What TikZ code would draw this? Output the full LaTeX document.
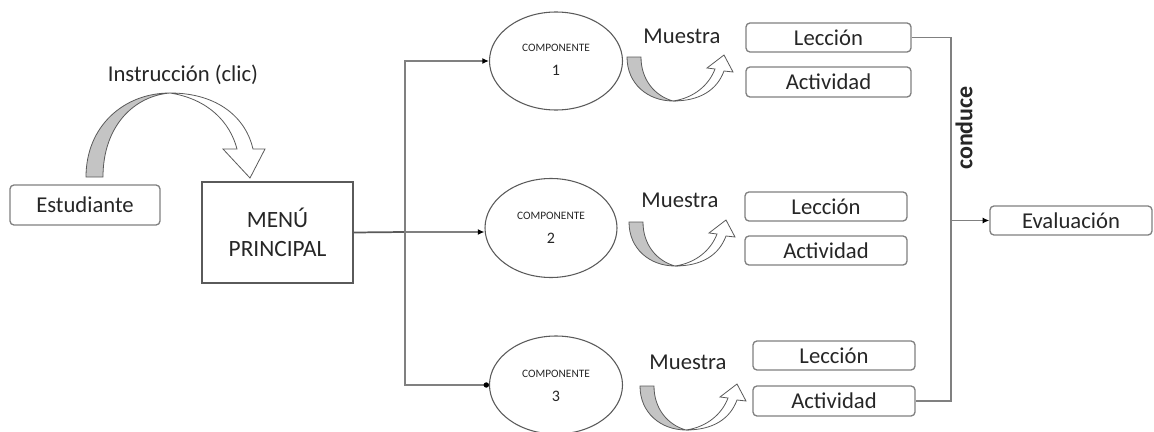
\documentclass[tikz,border=0pt]{standalone}
\usepackage{fontspec}
\setmainfont{Carlito}
\usetikzlibrary{shapes.geometric,arrows.meta}
\newcommand\pxl[1]{#1*0.75pt}
\definecolor{txt}{HTML}{262626}
\definecolor{ln}{HTML}{808080}
\definecolor{edge}{HTML}{5A5A5A}
\definecolor{shade}{HTML}{C4C4C4}
\tikzset{
  base/.style={font=\fontsize{17}{20}\selectfont, text=txt, inner sep=0pt},
  roundbox/.style={base, draw=ln, line width=1pt, rounded corners=3pt},
  menubox/.style={base, draw=edge, line width=0.9pt, align=center,
    font=\fontsize{17.5}{22}\selectfont},
  comp/.style={ellipse, draw=edge, line width=0.8pt, inner sep=0pt},
  smalltxt/.style={text=txt, inner sep=0pt, font=\fontsize{8.5}{9}\selectfont},
  digit/.style={text=txt, inner sep=0pt, font=\fontsize{12}{13}\selectfont},
  conn/.style={draw=ln, line width=1pt},
  tip/.style={-{Latex[length=5pt,width=4.5pt,black]}, draw=ln, line width=1pt},
  dottip/.style={-{Circle[length=4pt,width=4pt,black]}, draw=ln, line width=1pt},
  bandshade/.style={fill=shade, draw=edge, line width=0.6pt},
  bandwhite/.style={fill=white, draw=edge, line width=0.6pt},
}
% U-shaped block arrow next to each "Muestra"
\newcommand\showarrow{%
  \path[bandshade] (627,57) .. controls (627,84) and (648,101) .. (673,101)
     .. controls (655,96) and (641,80) .. (641,57) -- cycle;
  \path[bandwhite] (673,101) .. controls (700,101) and (717,90) .. (724,71)
     -- (733,72) -- (724,55) -- (707,68) -- (715,69)
     .. controls (709,85) and (694,98) .. (673,101) -- cycle;
}
\begin{document}
\begin{tikzpicture}[x=0.75pt, y=-0.75pt]
\useasboundingbox (0,0) rectangle (1154,432);

% student and main menu
\node[roundbox, minimum width={\pxl{150}}, minimum height={\pxl{40}}] (est) at (85,205) {Estudiante};
\node[menubox, minimum width={\pxl{151}}, minimum height={\pxl{101}}] (menu) at (277.5,232.5) {MENÚ\\PRINCIPAL};

% curved arrow from the student to the menu
\path[bandshade] (86,177) .. controls (86,126) and (124,93) .. (170,93)
   .. controls (134,96) and (103,126) .. (103,177) -- cycle;
\path[bandwhite] (170,93) .. controls (218,93) and (246,118) .. (253,149)
   -- (265,149) -- (250,178) -- (223,149) -- (237,149)
   .. controls (230,122) and (208,99) .. (170,93) -- cycle;
\node[base] (instr) at (183,75) {Instrucción (clic)};

% components
\node[comp, minimum width={\pxl{133}}, minimum height={\pxl{98}}] (comp1) at (556,61) {};
\node[smalltxt] (comp1a) at (556,48) {COMPONENTE};
\node[digit] (comp1b) at (556,70) {1};
\node[comp, minimum width={\pxl{132}}, minimum height={\pxl{99}}] (comp2) at (551,228) {};
\node[smalltxt] (comp2a) at (551,216) {COMPONENTE};
\node[digit] (comp2b) at (551,238) {2};
\node[comp, minimum width={\pxl{133}}, minimum height={\pxl{98}}] (comp3) at (556,385) {};
\node[smalltxt] (comp3a) at (556,374) {COMPONENTE};
\node[digit] (comp3b) at (556,396) {3};

% menu branches
\coordinate (split) at (405,232);
\draw[draw=edge, line width=1.3pt] (menu.east) -- (split);
\draw[tip] (split) |- (comp1.west);
\draw[tip] (split) -- (split -| comp2.west);
\draw[dottip] (split) |- (comp3.west);

% "Muestra" arrows and labels
\showarrow
\begin{scope}[shift={(2,165)}]\showarrow\end{scope}
\begin{scope}[shift={(13,329)}]\showarrow\end{scope}
\node[base] (m1) at (682,36) {Muestra};
\node[base] (m2) at (680,200) {Muestra};
\node[base] (m3) at (688,362) {Muestra};

% lessons and activities
\node[roundbox, minimum width={\pxl{165}}, minimum height={\pxl{29}}] (l1) at (828.5,37.5) {Lección};
\node[roundbox, minimum width={\pxl{165}}, minimum height={\pxl{30}}] (a1) at (828.5,82) {Actividad};
\node[roundbox, minimum width={\pxl{162}}, minimum height={\pxl{29}}] (l2) at (826,206.5) {Lección};
\node[roundbox, minimum width={\pxl{162}}, minimum height={\pxl{29}}] (a2) at (826,250.5) {Actividad};
\node[roundbox, minimum width={\pxl{162}}, minimum height={\pxl{29}}] (l3) at (834,355.5) {Lección};
\node[roundbox, minimum width={\pxl{162}}, minimum height={\pxl{30}}] (a3) at (834,401) {Actividad};

% evaluation
\node[roundbox, minimum width={\pxl{162}}, minimum height={\pxl{29}}] (eval) at (1071,220.5) {Evaluación};
\coordinate (jn) at (951,220.5);
\draw[conn] (l1.east) -| (jn) |- (a3.east);
\draw[tip] (jn) -- (eval.west);
\node[base, rotate=90, font=\bfseries\fontsize{18}{20}\selectfont] (cond) at (964,128) {conduce};
\end{tikzpicture}
\end{document}
